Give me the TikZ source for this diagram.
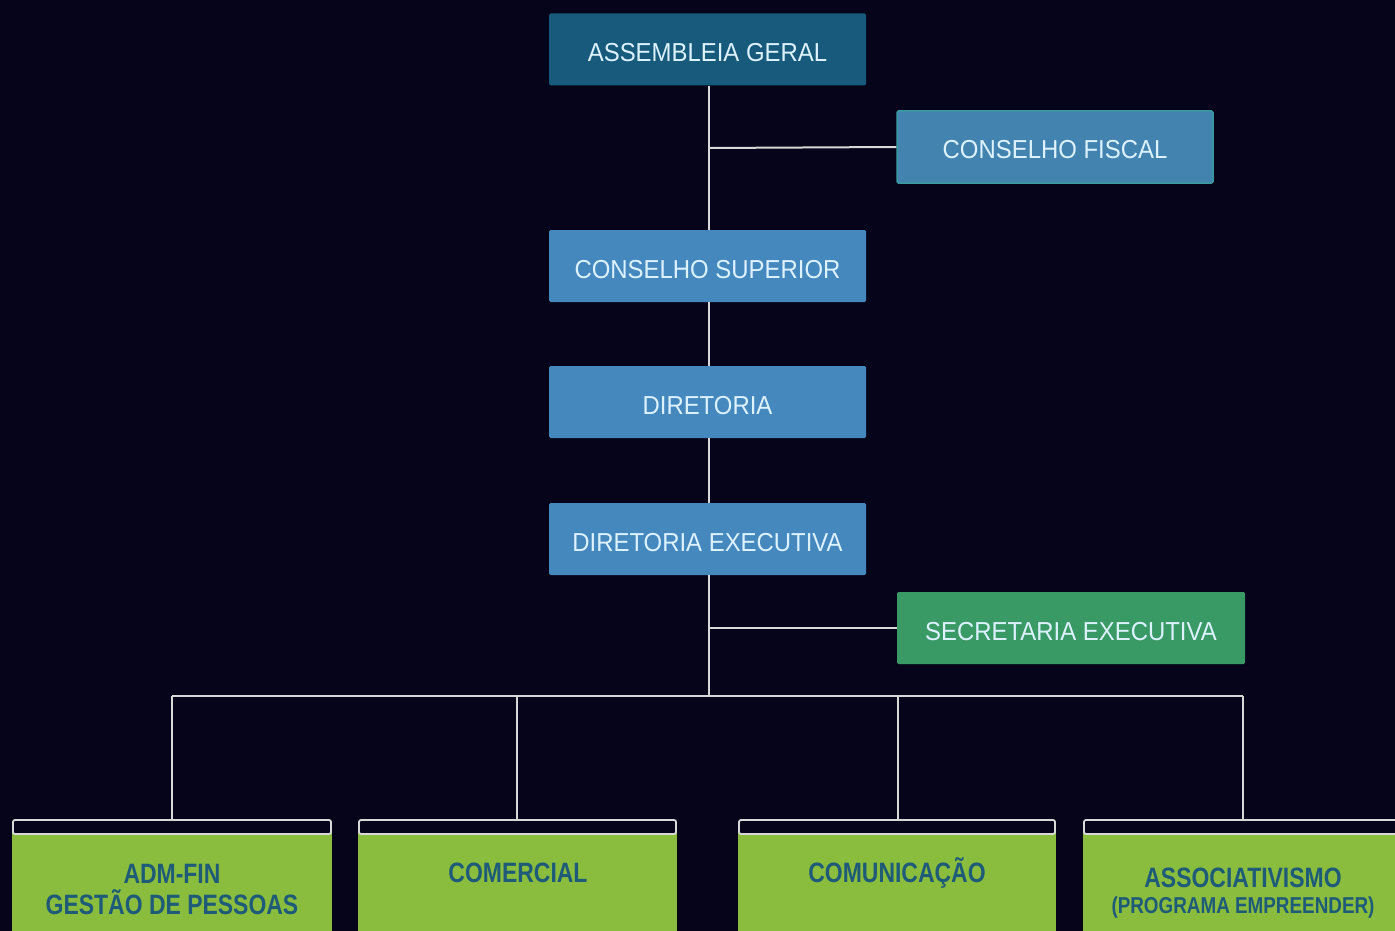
\documentclass[tikz,border=0pt]{standalone}
\usepackage{fontspec}
\setmainfont{Liberation Sans}
\newfontfamily\condfont[FakeStretch=0.82]{Liberation Sans}
\newfontfamily\boxfont[FakeStretch=0.92]{Liberation Sans}
\definecolor{bgnavy}{HTML}{05041A}
\definecolor{agblue}{HTML}{175A7C}
\definecolor{midblue}{HTML}{4588BD}
\definecolor{fiscalblue}{HTML}{4283B0}
\definecolor{fiscaledge}{HTML}{3A9AA0}
\definecolor{secgreen}{HTML}{3A9A66}
\definecolor{limegreen}{HTML}{8ABD3E}
\definecolor{darktext}{HTML}{1E5B78}
\definecolor{lighttext}{HTML}{DDF2FF}
\definecolor{linegray}{HTML}{D8D8D8}
\tikzset{
  orgbox/.style={rectangle, rounded corners=1.5pt, minimum height=72pt, inner sep=0pt,
    text height=24pt, text depth=0pt,
    text=lighttext, font=\boxfont\fontsize{26}{30}\selectfont},
  conn/.style={draw=linegray, line width=2pt},
  band/.style={fill=bgnavy, draw=linegray, line width=1.8pt, rounded corners=2pt},
  unittext/.style={text=darktext, align=center, font=\condfont\bfseries\fontsize{28}{31}\selectfont},
}
\begin{document}
\begin{tikzpicture}[x=1pt,y=-1pt]
\useasboundingbox (0,0) rectangle (1395,931);
\clip (0,0) rectangle (1395,931);
\fill[bgnavy] (0,0) rectangle (1395,931);
% main column
\node[orgbox, fill=agblue, minimum width=317pt] (ag) at (707.5,49.5) {ASSEMBLEIA GERAL};
\node[orgbox, fill=fiscalblue, draw=fiscaledge, line width=1.5pt, minimum width=316pt] (cf) at (1055,147) {CONSELHO FISCAL};
\node[orgbox, fill=midblue, minimum width=317pt] (cs) at (707.5,266) {CONSELHO SUPERIOR};
\node[orgbox, fill=midblue, minimum width=317pt] (dir) at (707.5,402) {DIRETORIA};
\node[orgbox, fill=midblue, minimum width=317pt] (de) at (707.5,539) {DIRETORIA EXECUTIVA};
\node[orgbox, fill=secgreen, minimum width=348pt] (se) at (1071,628) {SECRETARIA EXECUTIVA};
% junction coordinates
\coordinate (j1) at (709,148);
\coordinate (j2) at (709,628);
\coordinate (bus) at (709,696);
\coordinate (b1) at (172,696);
\coordinate (b2) at (517,696);
\coordinate (b3) at (898,696);
\coordinate (b4) at (1243,696);
% bottom units
\fill[limegreen] (12,830) rectangle (332,931);
\fill[limegreen] (358,830) rectangle (677,931);
\fill[limegreen] (738,830) rectangle (1056,931);
\fill[limegreen] (1083,830) rectangle (1400,931);
\draw[band] (13,820) rectangle (331,834);
\draw[band] (359,820) rectangle (676,834);
\draw[band] (739,820) rectangle (1055,834);
\draw[band] (1084,820) rectangle (1405,834);
\coordinate (u1) at (172,820);
\coordinate (u2) at (517,820);
\coordinate (u3) at (898,820);
\coordinate (u4) at (1243,820);
\node[unittext] (t1) at (172,889) {ADM-FIN\\GESTÃO DE PESSOAS};
\node[unittext] (t2) at (518,873) {COMERCIAL};
\node[unittext] (t3) at (897,873) {COMUNICAÇÃO};
\node[unittext, align=center] (t4) at (1243,893) {ASSOCIATIVISMO\\[-5pt]{\fontsize{23}{26}\selectfont (PROGRAMA EMPREENDER)}};
% connectors
\draw[conn] (ag.south -| j1) -- (cs.north -| j1);
\draw[conn] (j1) -- (cf.west);
\draw[conn] (cs.south -| j1) -- (dir.north -| j1);
\draw[conn] (dir.south -| j1) -- (de.north -| j1);
\draw[conn] (de.south -| j1) -- (bus);
\draw[conn] (j2) -- (se.west);
\draw[conn] (b1) -- (b4);
\draw[conn] (b1) -- (u1);
\draw[conn] (b2) -- (u2);
\draw[conn] (b3) -- (u3);
\draw[conn] (b4) -- (u4);
\end{tikzpicture}
\end{document}
